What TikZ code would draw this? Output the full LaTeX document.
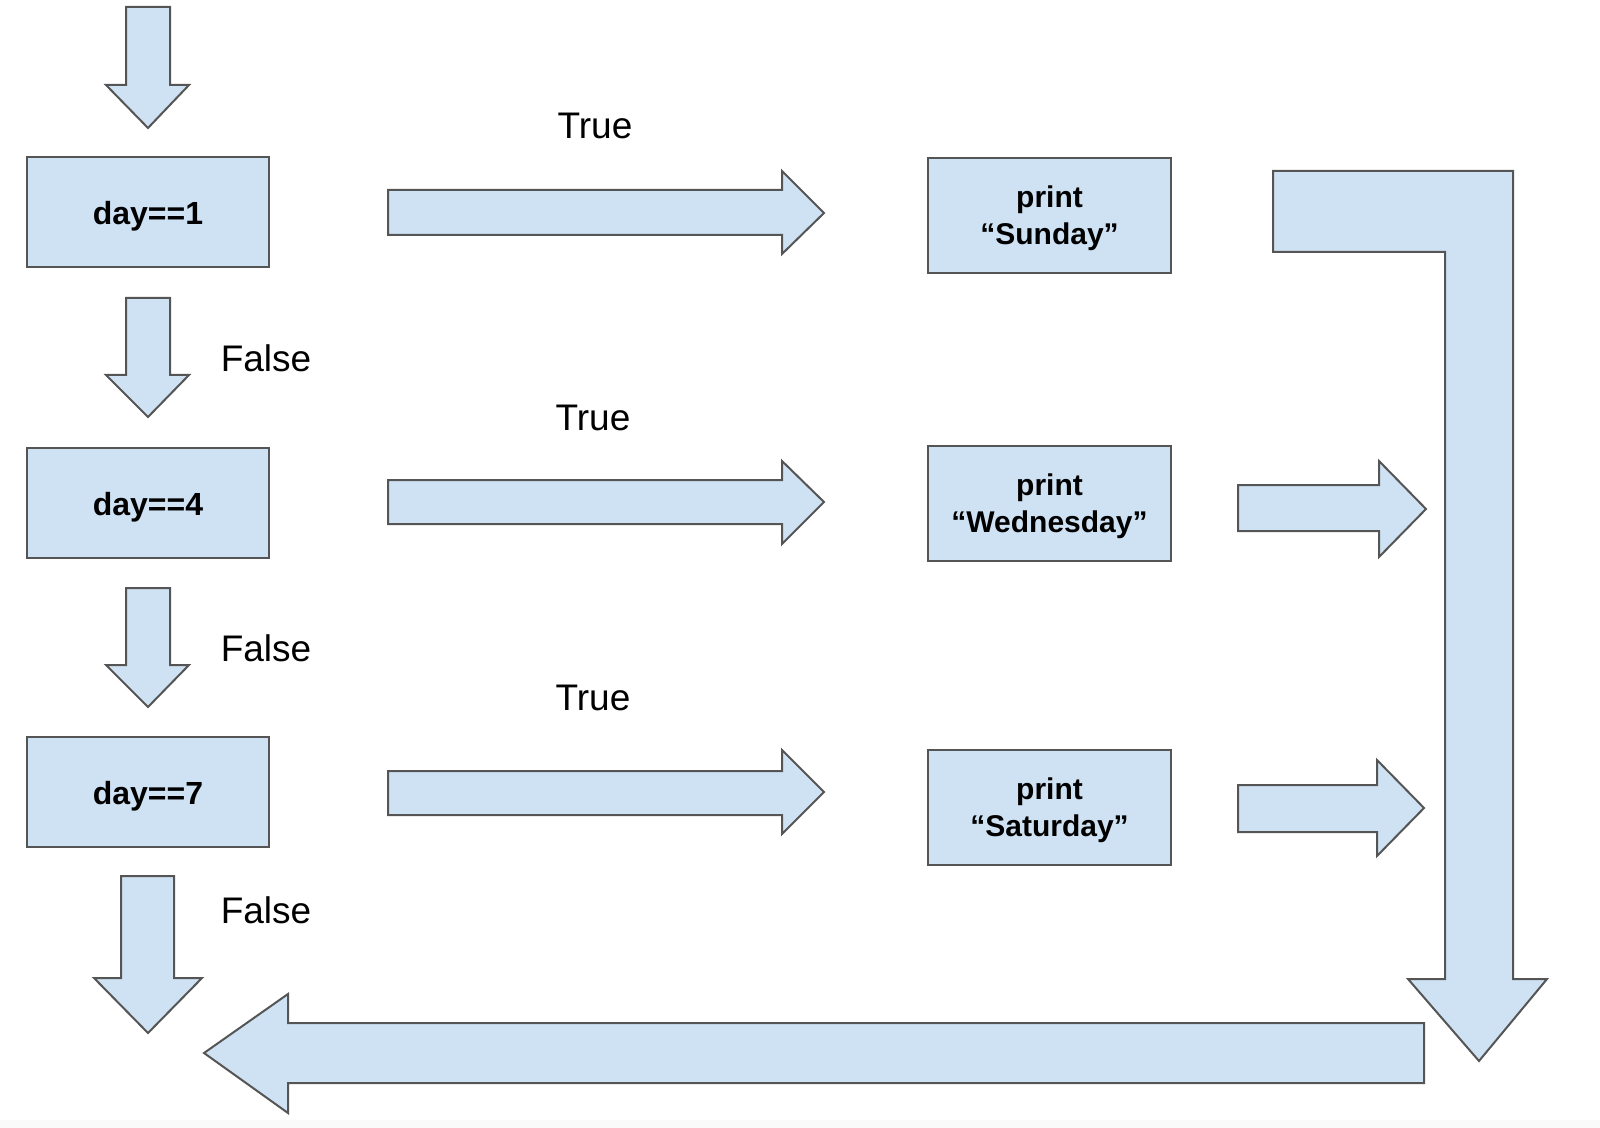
\documentclass[tikz,border=0pt]{standalone}
\usepackage{fontspec}
\setmainfont{Liberation Sans}
\definecolor{blkfill}{HTML}{CFE2F3}
\definecolor{blkline}{HTML}{555555}
\newcommand\lowtxt[1]{\raisebox{-1.5pt}[\height][\depth]{\parbox{110pt}{\centering #1}}}
\begin{document}
\begin{tikzpicture}[x=0.5pt,y=-0.5pt,
  blk/.style={draw=blkline,fill=blkfill,line width=1pt,line join=miter},
  box/.style={draw=blkline,fill=blkfill,line width=1pt,inner sep=0pt,outer sep=0pt,align=center,font=\fontsize{16}{18.5}\selectfont\bfseries},
  condbox/.style={box,minimum width=121pt,minimum height=55pt,text depth=0pt,text height=13pt},
  printbox/.style={box,minimum width=121.5pt,minimum height=57.5pt,font=\fontsize{15}{18.5}\selectfont\bfseries},
  lbl/.style={inner sep=0pt,font=\fontsize{18.5}{20}\selectfont}]
\useasboundingbox (0,0) rectangle (1600,1128);
\fill[gray!4] (0,1120) rectangle (1600,1128);
% down arrows on the left
\draw[blk] (126,7) -- (170,7) -- (170,85) -- (189,85) -- (148,128) -- (106,85) -- (126,85) -- cycle;
\draw[blk] (126,298) -- (170,298) -- (170,375) -- (189,375) -- (148,417) -- (106,375) -- (126,375) -- cycle;
\draw[blk] (126,588) -- (170,588) -- (170,665) -- (189,665) -- (148,707) -- (106,665) -- (126,665) -- cycle;
\draw[blk] (121,876) -- (174,876) -- (174,978) -- (202,978) -- (148,1033) -- (94,978) -- (121,978) -- cycle;
% condition boxes
\node[condbox] (d1) at (148,212) {day==1};
\node[condbox] (d4) at (148,502.5) {day==4};
\node[condbox] (d7) at (148,791.5) {day==7};
% True arrows
\draw[blk] (388,190) -- (782,190) -- (782,171) -- (824,213) -- (782,254) -- (782,235) -- (388,235) -- cycle;
\draw[blk] (388,480) -- (782,480) -- (782,461) -- (824,502) -- (782,544) -- (782,524) -- (388,524) -- cycle;
\draw[blk] (388,771) -- (782,771) -- (782,750) -- (824,792) -- (782,834) -- (782,815) -- (388,815) -- cycle;
% print boxes
\node[printbox] (p1) at (1049.5,215.5) {\lowtxt{print\\“Sunday”}};
\node[printbox] (p4) at (1049.5,503) {\lowtxt{print\\“Wednesday”}};
\node[printbox] (p7) at (1049.5,807.5) {\lowtxt{print\\“Saturday”}};
% small arrows
\draw[blk] (1238,485) -- (1379,485) -- (1379,461) -- (1426,509) -- (1379,557) -- (1379,531) -- (1238,531) -- cycle;
\draw[blk] (1238,785) -- (1377,785) -- (1377,760) -- (1424,808) -- (1377,856) -- (1377,832) -- (1238,832) -- cycle;
% bent arrow
\draw[blk] (1273,171) -- (1513,171) -- (1513,979) -- (1547,979) -- (1479,1061) -- (1408,979) -- (1445,979) -- (1445,252) -- (1273,252) -- cycle;
% bottom arrow
\draw[blk] (1424,1023) -- (288,1023) -- (288,994) -- (204,1053) -- (288,1113) -- (288,1083) -- (1424,1083) -- cycle;
% labels
\node[lbl] (t1) at (595,126) {True};
\node[lbl] (t4) at (593,418) {True};
\node[lbl] (t7) at (593,698) {True};
\node[lbl] (f1) at (266,358) {False};
\node[lbl] (f4) at (266,648) {False};
\node[lbl] (f7) at (266,910) {False};
\end{tikzpicture}
\end{document}
